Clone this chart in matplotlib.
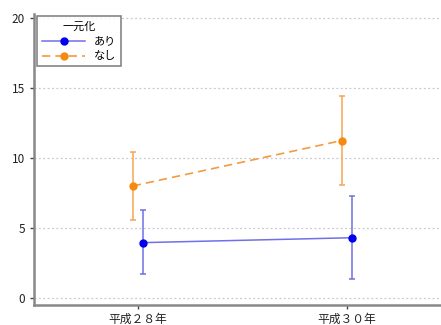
import numpy as np
import matplotlib
matplotlib.use("Agg")
import matplotlib.pyplot as plt

plt.rcParams['font.family'] = ['Noto Sans CJK JP', 'DejaVu Sans']

years = ["平成２８年", "平成３０年"]
ari_mean = [3.95, 4.3]
ari_low = [1.7, 1.35]
ari_high = [6.3, 7.25]
nashi_mean = [8.0, 11.25]
nashi_low = [5.6, 8.1]
nashi_high = [10.45, 14.4]

x = np.arange(1, len(years) + 1)

fig = plt.figure(figsize=(4.41, 3.25), dpi=100)
ax = fig.add_axes([0.077, 0.062, 0.923, 0.895])

for yv in [0, 5, 10, 15, 20]:
    ax.axhline(yv, color="#c8c8d0", lw=0.9, ls=(0, (1.5, 2)), zorder=0)

blue_x = x + 0.025
orange_x = x - 0.025

ax.errorbar(orange_x, nashi_mean,
            yerr=[np.subtract(nashi_mean, nashi_low), np.subtract(nashi_high, nashi_mean)],
            fmt="none", ecolor="#f5a650", elinewidth=1.1, capsize=2.5, capthick=1.1)
ax.errorbar(blue_x, ari_mean,
            yerr=[np.subtract(ari_mean, ari_low), np.subtract(ari_high, ari_mean)],
            fmt="none", ecolor="#7070e0", elinewidth=1.1, capsize=2.5, capthick=1.1)

ax.plot(blue_x, ari_mean, color="#7070e8", lw=1.1, marker="o", ms=5,
        mfc="#0000ee", mec="#0000ee", label="あり")
ax.plot(orange_x, nashi_mean, color="#f59a40", lw=1.2, ls=(0, (5, 3)), marker="o", ms=5,
        mfc="#f58a10", mec="#f58a10", label="なし")

ax.set_xlim(0.502, 2.45)
ax.set_ylim(-0.5, 20.3)
ax.set_xticks(x)
ax.set_xticklabels(years, fontsize=8.5)
ax.set_yticks([0, 5, 10, 15, 20])
ax.tick_params(axis="both", colors="#444444", labelcolor="#222222", labelsize=8.5, length=3, width=1)
ax.tick_params(axis="x", pad=3)

for side in ["top", "right"]:
    ax.spines[side].set_visible(False)
for side in ["left", "bottom"]:
    ax.spines[side].set_color("#888888")
    ax.spines[side].set_linewidth(1.8)

leg = ax.legend(title="一元化", loc="upper left", bbox_to_anchor=(0.003, 1.0),
                fontsize=8, title_fontsize=8, frameon=True, fancybox=False,
                handlelength=3.8, borderpad=0.45, labelspacing=0.45, handletextpad=0.8,
                borderaxespad=0.2)
leg.get_frame().set_edgecolor("#666666")
leg.get_frame().set_linewidth(1.2)

fig.savefig("out.png", dpi=100)
